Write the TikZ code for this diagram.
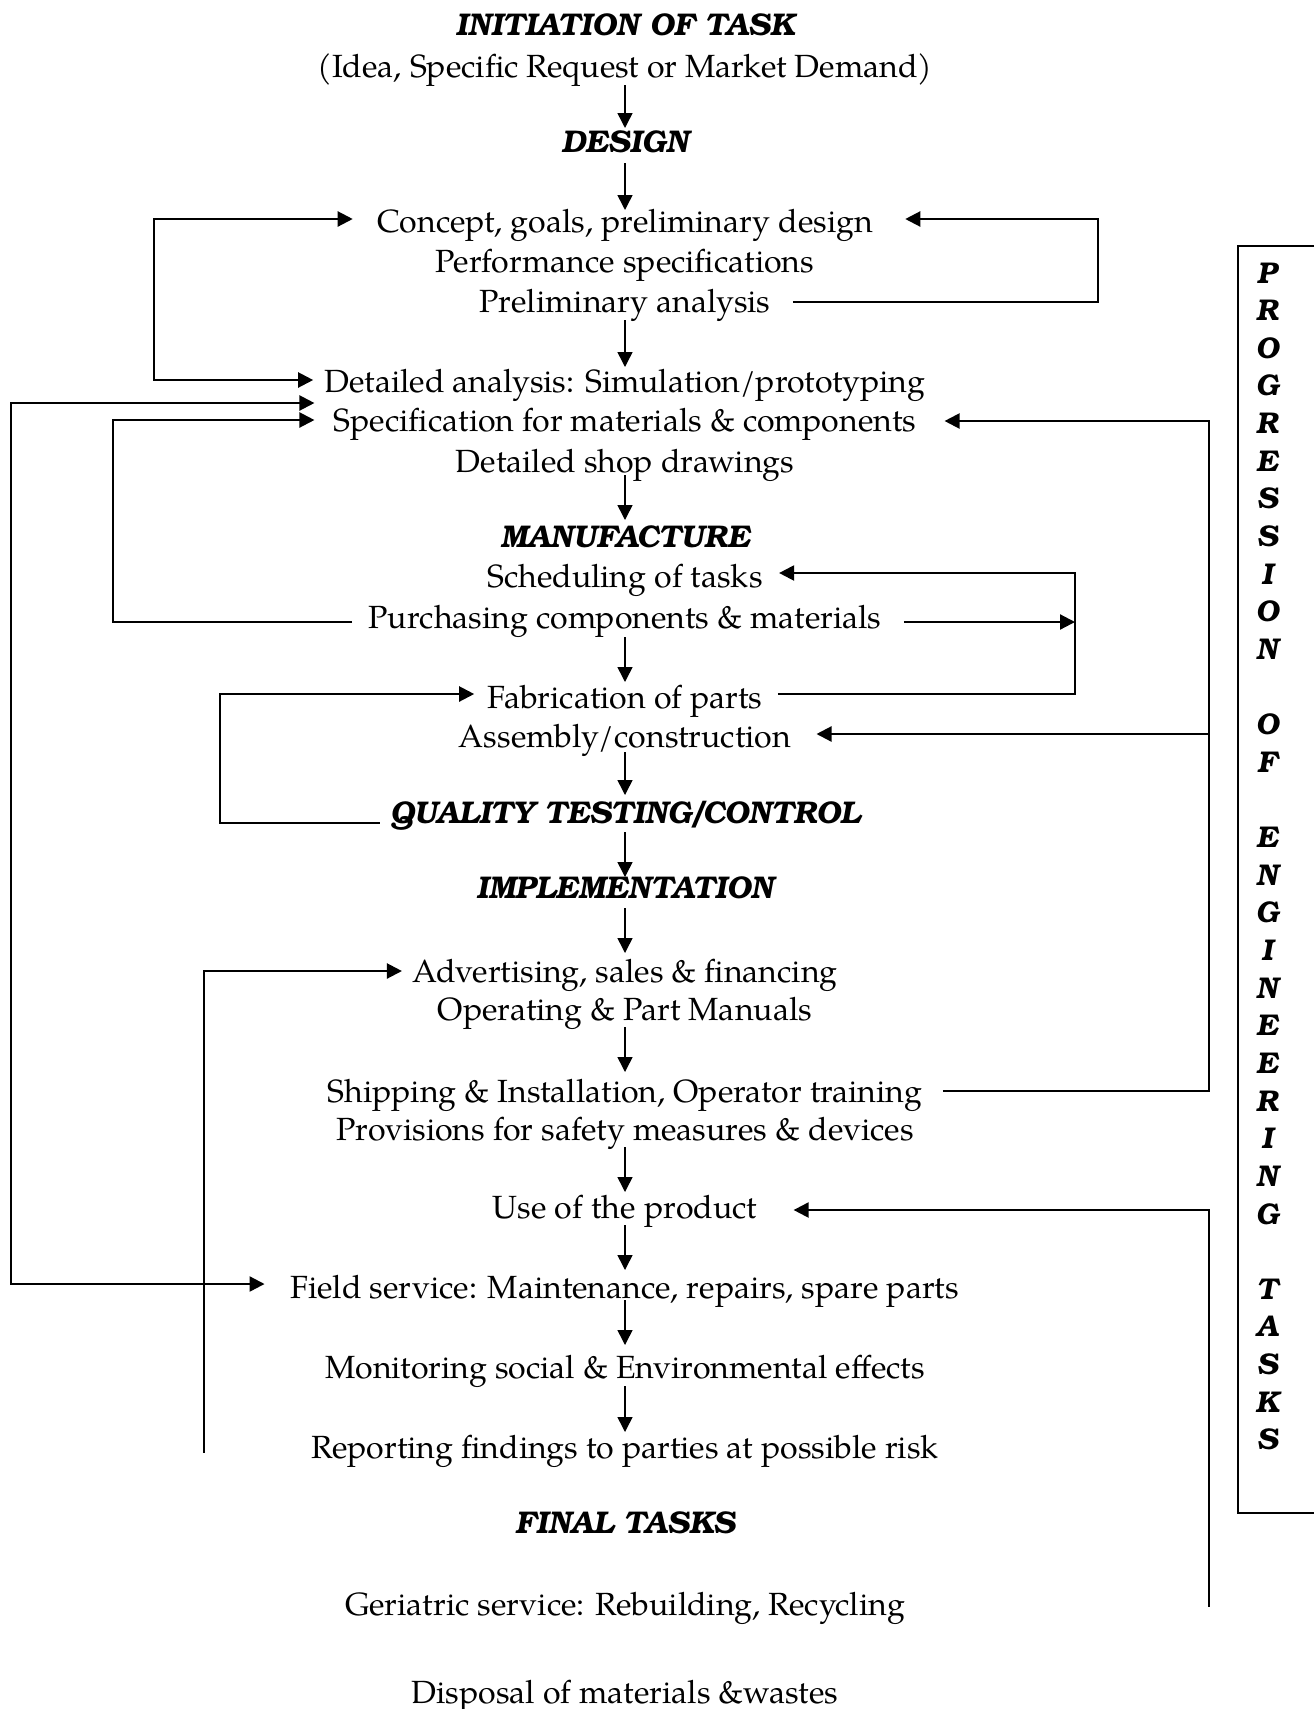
\documentclass[tikz,border=0pt]{standalone}
\usepackage{fontspec}
\setmainfont{TeX Gyre Pagella}
\newfontfamily\headfont{TeX Gyre Bonum}
\usetikzlibrary{arrows.meta,calc}
\newcommand\flowarrow[4]{\draw[dn] ($(#1.base)+(0,#2)$) -- ($(#3.base)+(0,#4)$);}
\begin{document}
\begin{tikzpicture}[x=0.5pt,y=-0.5pt,
  txt/.style={inner sep=0pt,anchor=base,font=\fontsize{16.05}{20}\selectfont},
  hd/.style={inner sep=0pt,anchor=base,font=\headfont\bfseries\itshape\fontsize{15.7}{19}\selectfont},
  vlet/.style={inner sep=0pt,anchor=base,font=\headfont\bfseries\itshape\fontsize{15}{19}\selectfont},
  dn/.style={line width=0.75pt,-{Triangle[length=7.5pt,width=7.5pt]}},
  fb/.style={line width=1.1pt},
  fbend/.style={-{Triangle[length=7.5pt,width=7.5pt]}},
  fbstart/.style={{Triangle[length=7.5pt,width=7.5pt]}-},
  fbboth/.style={{Triangle[length=7.5pt,width=7.5pt]}-{Triangle[length=7.5pt,width=7.5pt]}}
]
\useasboundingbox (0,0) rectangle (1314,1709);

% stages and tasks, centred on one column
\node[hd]  (init)   at (625,35)   {INITIATION OF TASK};
\node[txt] (idea)   at (625,77)   {(Idea, Specific Request or Market Demand)};
\node[hd]  (design) at (625,152)  {DESIGN};
\node[txt] (concept) at (625,232) {Concept, goals, preliminary design};
\node[txt] (perf)   at (625,272)  {Performance specifications};
\node[txt] (prelim) at (625,312)  {Preliminary analysis};
\node[txt] (detail) at (625,392)  {Detailed analysis: Simulation/prototyping};
\node[txt] (spec)   at (625,431)  {Specification for materials \& components};
\node[txt] (shop)   at (625,472)  {Detailed shop drawings};
\node[hd]  (manu)   at (625,547)  {MANUFACTURE};
\node[txt] (sched)  at (625,587)  {Scheduling of tasks};
\node[txt] (purch)  at (625,628)  {Purchasing components \& materials};
\node[txt] (fab)    at (625,708)  {Fabrication of parts};
\node[txt] (asm)    at (625,747)  {Assembly/construction};
\node[hd]  (qc)     at (625,823)  {QUALITY TESTING/CONTROL};
\node[hd]  (impl)   at (625,898)  {IMPLEMENTATION};
\node[txt] (adv)    at (625,982)  {Advertising, sales \& financing};
\node[txt] (oper)   at (625,1020) {Operating \& Part Manuals};
\node[txt] (ship)   at (625,1102) {Shipping \& Installation, Operator training};
\node[txt] (prov)   at (625,1140) {Provisions for safety measures \& devices};
\node[txt] (use)    at (625,1218) {Use of the product};
\node[txt] (field)  at (625,1298) {Field service: Maintenance, repairs, spare parts};
\node[txt] (monit)  at (625,1378) {Monitoring social \& Environmental effects};
\node[txt] (report) at (625,1458) {Reporting findings to parties at possible risk};
\node[hd]  (final)  at (625,1533) {FINAL TASKS};
\node[txt] (geri)   at (625,1615) {Geriatric service: Rebuilding, Recycling};
\node[txt] (disp)   at (625,1703) {Disposal of materials \&wastes};

% main downward flow
\flowarrow{idea}{8}{design}{-24}
\flowarrow{design}{11}{concept}{-22}
\flowarrow{prelim}{8}{detail}{-25}
\flowarrow{shop}{3}{manu}{-27}
\flowarrow{purch}{9}{fab}{-26}
\flowarrow{asm}{5}{qc}{-28}
\flowarrow{qc}{9}{impl}{-21}
\flowarrow{impl}{10}{adv}{-29}
\flowarrow{oper}{7}{ship}{-30}
\flowarrow{prov}{7}{use}{-26}
\flowarrow{use}{7}{field}{-28}
\flowarrow{field}{2}{monit}{-33}
\flowarrow{monit}{8}{report}{-26}

% feedback: concept <-> detailed analysis
\coordinate (cA1) at ($(concept.base west)+(-24,-13)$);
\coordinate (cA2) at ($(detail.base west)+(-11,-12)$);
\coordinate (xA) at (154,0);
\draw[fb,fbboth] (cA1) -- (cA1 -| xA) -- (cA2 -| xA) -- (cA2);

% feedback: preliminary analysis -> concept
\coordinate (cB1) at ($(prelim.base east)+(22,-10)$);
\coordinate (cB2) at ($(concept.base east)+(32,-13)$);
\coordinate (xB) at (1098,0);
\draw[fb,fbend] (cB1) -- (cB1 -| xB) -- (cB2 -| xB) -- (cB2);

% outer loop: specification <-> field service
\coordinate (cC1) at ($(spec.base west)+(-19,-28)$);
\coordinate (cC2) at ($(field.base west)+(-26,-14)$);
\coordinate (xC) at (11,0);
\draw[fb,fbboth] (cC1) -- (cC1 -| xC) -- (cC2 -| xC) -- (cC2);

% purchasing -> specification
\coordinate (cD1) at ($(spec.base west)+(-19,-11)$);
\coordinate (cD2) at ($(purch.base west)+(-16,-6)$);
\coordinate (xD) at (113,0);
\draw[fb,fbend] (cD2) -- (cD2 -| xD) -- (cD1 -| xD) -- (cD1);

% shipping -> specification and assembly
\coordinate (cE1) at ($(ship.base east)+(20,-11)$);
\coordinate (cE2) at ($(spec.base east)+(28,-10)$);
\coordinate (cE3) at ($(asm.base east)+(25,-13)$);
\coordinate (xE) at (1209,0);
\draw[fb,fbend] (cE1) -- (cE1 -| xE) -- (cE2 -| xE) -- (cE2);
\draw[fb,fbend] (cE3 -| xE) -- (cE3);

% fabrication / purchasing -> scheduling
\coordinate (cF1) at ($(fab.base east)+(15,-14)$);
\coordinate (cF2) at ($(sched.base east)+(16,-14)$);
\coordinate (cF3) at ($(purch.base east)+(22,-6)$);
\coordinate (xF) at (1075,0);
\draw[fb,fbend] (cF1) -- (cF1 -| xF) -- (cF2 -| xF) -- (cF2);
\draw[fb,fbend] (cF3) -- (cF3 -| xF);

% quality control -> fabrication
\coordinate (cG1) at ($(qc.base west)+(-10,0)$);
\coordinate (cG2) at ($(fab.base west)+(-13,-14)$);
\coordinate (xG) at (220,0);
\draw[fb,fbend] (cG1) -- (cG1 -| xG) -- (cG2 -| xG) -- (cG2);

% return to advertising
\coordinate (cH1) at ($(adv.base west)+(-10,-11)$);
\coordinate (hEnd) at (204,1453);
\draw[fb,fbstart] (cH1) -- (cH1 -| hEnd) -- (hEnd);

% return to use of the product
\coordinate (cI1) at ($(use.base east)+(36,-8)$);
\coordinate (iEnd) at (1209,1607);
\draw[fb,fbstart] (cI1) -- (cI1 -| iEnd) -- (iEnd);

% side frame with vertical title
\draw[line width=1pt] (1314,246) -- (1238,246) -- (1238,1513) -- (1314,1513);
\foreach \c/\i in {P/0,R/1,O/2,G/3,R/4,E/5,S/6,S/7,I/8,O/9,N/10,
                   O/12,F/13,
                   E/15,N/16,G/17,I/18,N/19,E/20,E/21,R/22,I/23,N/24,G/25,
                   T/27,A/28,S/29,K/30,S/31}
  \node[vlet] (v\i) at (1267,{283+37.64*\i}) {\c};
\end{tikzpicture}
\end{document}
